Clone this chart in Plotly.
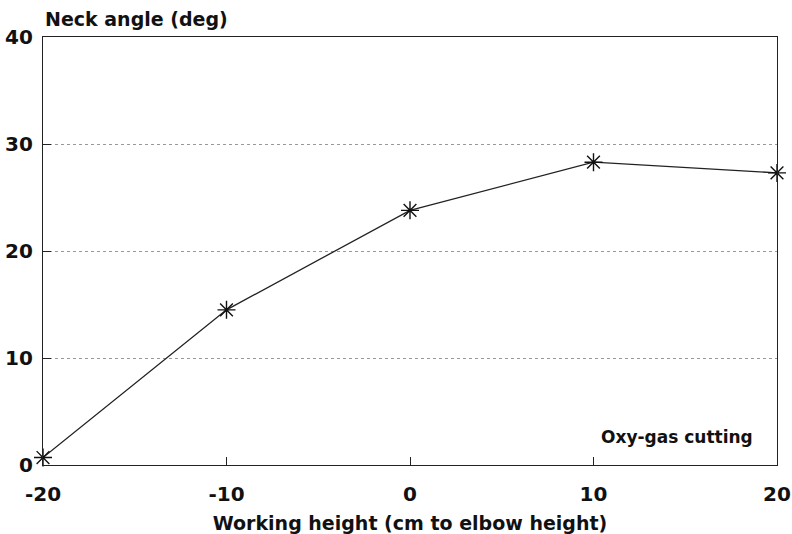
import plotly.graph_objects as go

working_height = [-20, -10, 0, 10, 20]
neck_angle = [0.7, 14.5, 23.8, 28.3, 27.3]
x_ticks = [-20, -10, 0, 10, 20]
y_ticks = [0, 10, 20, 30, 40]

FONT = "DejaVu Sans"

fig = go.Figure()
fig.add_trace(go.Scatter(
    x=working_height, y=neck_angle, mode="lines+markers",
    line=dict(color="#222", width=1.3),
    marker=dict(symbol="asterisk-open", size=15, color="#111", line=dict(width=1.4, color="#111")),
    cliponaxis=False, showlegend=False,
))

fig.update_layout(
    width=792, height=534,
    margin=dict(l=43, r=15, t=37, b=69),
    paper_bgcolor="white", plot_bgcolor="white",
    font=dict(family=FONT, size=16, color="#111"),
    xaxis=dict(
        range=[-20, 20], tickvals=x_ticks, ticktext=[str(v) for v in x_ticks],
        automargin=False,
        showgrid=False, zeroline=False, showline=True, linecolor="#222", linewidth=1.3,
        mirror=True, ticks="inside", ticklen=8, tickcolor="#222",
        ticklabelstandoff=11,
        tickfont=dict(family=FONT, size=20, color="#111", weight="bold"),
        title=dict(text="Working height (cm to elbow height)", standoff=14,
                   font=dict(family=FONT, size=19, color="#111", weight="bold")),
    ),
    yaxis=dict(
        range=[0, 40], tickvals=y_ticks, ticktext=[str(v) for v in y_ticks],
        automargin=False,
        showgrid=True, gridcolor="#999", griddash="dot", gridwidth=1,
        zeroline=False, showline=True, linecolor="#222", linewidth=1.3,
        mirror=True, ticks="inside", ticklen=8, tickcolor="#222",
        ticklabelstandoff=5,
        tickfont=dict(family=FONT, size=20, color="#111", weight="bold"),
    ),
    annotations=[
        dict(text="Neck angle (deg)", x=0, xref="paper", xanchor="left",
             y=1, yref="paper", yanchor="bottom", yshift=5, showarrow=False,
             font=dict(family=FONT, size=19, color="#111", weight="bold")),
        dict(text="Oxy-gas cutting", x=0.97, xref="paper", xanchor="right",
             y=0.065, yref="paper", yanchor="middle", showarrow=False,
             font=dict(family=FONT, size=17, color="#111", weight="bold")),
    ],
)

# remove the default page margin so the 792x534 figure fills the window exactly
fig.write_html("out.html", config={"displayModeBar": False},
               post_script="document.body.style.margin='0';document.body.style.overflow='hidden';")
